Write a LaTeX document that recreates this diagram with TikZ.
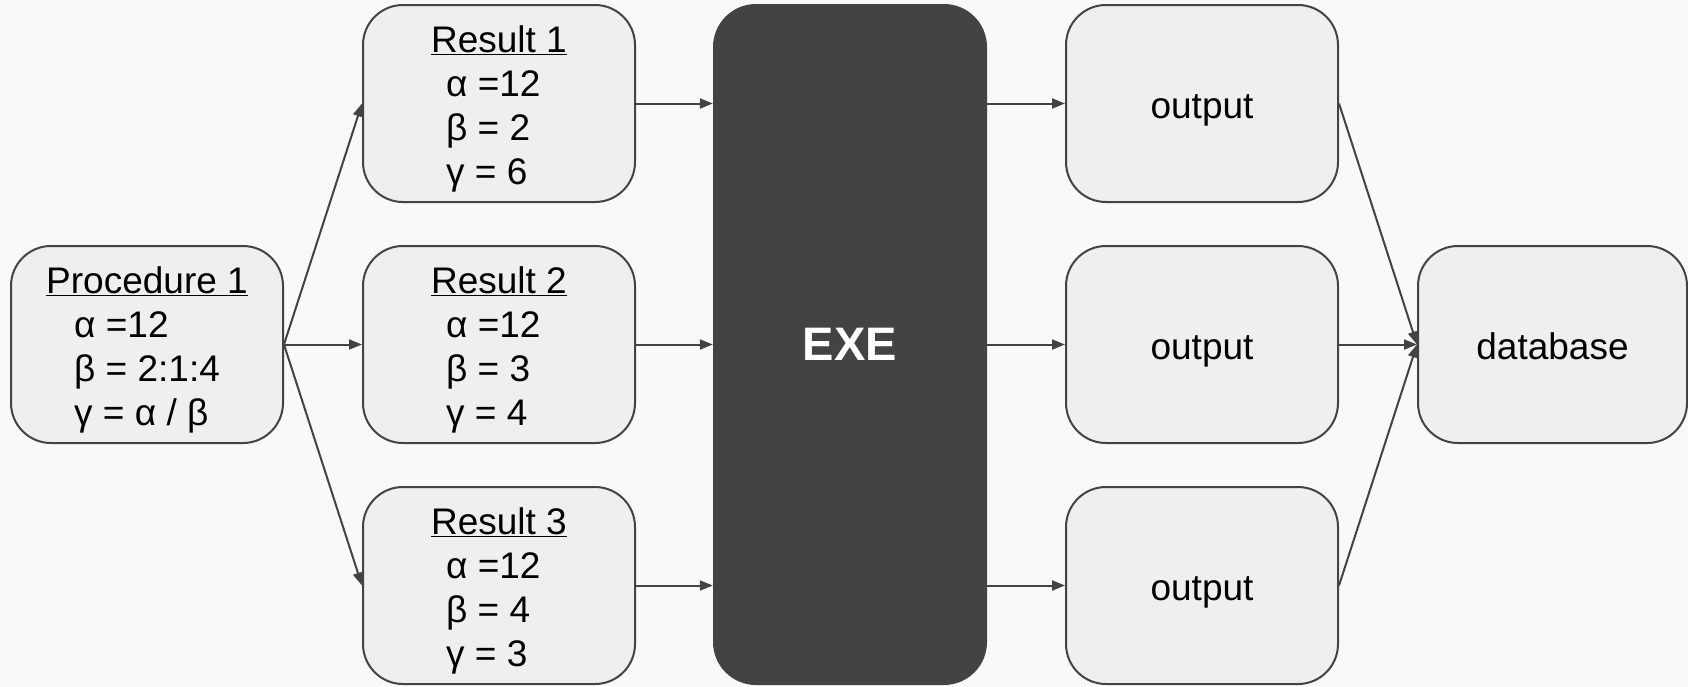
\documentclass[tikz,border=0pt]{standalone}
\usepackage{fontspec}
\setmainfont{Liberation Sans}
\usepackage{tikz}
\usetikzlibrary{arrows.meta,positioning}
\definecolor{bggray}{HTML}{F9F9F9}
\definecolor{boxgray}{HTML}{EFEFEF}
\definecolor{linegray}{HTML}{434343}
\definecolor{exegray}{HTML}{434343}
\newcommand{\boxtitle}[1]{\rule{0pt}{38pt}\underline{#1}}
\tikzset{
  box/.style={draw=linegray, fill=boxgray, line width=2pt, rounded corners=40pt,
    minimum width=272pt, minimum height=197pt, inner sep=0pt, align=left,
    font=\fontsize{37}{44}\selectfont},
  onebox/.style={box, text height=36pt, text depth=7pt},
  exebox/.style={fill=exegray, rounded corners=43pt, minimum width=274pt,
    minimum height=681pt, inner sep=0pt, text=white,
    font=\fontsize{47}{56}\selectfont\bfseries},
  link/.style={draw=linegray, line width=2pt, -{Triangle[length=13pt,width=10pt]}}
}

\begin{document}
\begin{tikzpicture}[x=1pt,y=-1pt]
	\fill[bggray] (0,0) rectangle (1688,686);
	\useasboundingbox (0,0) rectangle (1688,686);
	% input
	\node[box] (proc) at (147,344.5) {\boxtitle{Procedure 1}\\ \hspace*{28pt}α =12\\ \hspace*{28pt}β = 2:1:4\\ \hspace*{28pt}γ = α / β};
	% results
	\node[box] (res1) at (499,103.5) {\boxtitle{Result 1}\\ \hspace*{15pt}α =12\\ \hspace*{15pt}β = 2\\ \hspace*{15pt}γ = 6};
	\node[box] (res2) at (499,344.5) {\boxtitle{Result 2}\\ \hspace*{15pt}α =12\\ \hspace*{15pt}β = 3\\ \hspace*{15pt}γ = 4};
	\node[box] (res3) at (499,585.5) {\boxtitle{Result 3}\\ \hspace*{15pt}α =12\\ \hspace*{15pt}β = 4\\ \hspace*{15pt}γ = 3};
	\node[exebox] (exe) at (850,344.5) {EXE};
	% outputs
	\node[onebox] (out1) at (1202,103.5) {output};
	\node[onebox] (out2) at (1202,344.5) {output};
	\node[onebox] (out3) at (1202,585.5) {output};
	\node[onebox,minimum width=269pt] (db) at (1552.5,344.5) {database};
	% connectors
	\draw[link] (proc.east) -- (res1.west);
	\draw[link] (proc.east) -- (res2.west);
	\draw[link] (proc.east) -- (res3.west);
	\draw[link] (res1.east) -- (res1.east -| exe.west);
	\draw[link] (res2.east) -- (res2.east -| exe.west);
	\draw[link] (res3.east) -- (res3.east -| exe.west);
	\draw[link] (out1.west -| exe.east) -- (out1.west);
	\draw[link] (out2.west -| exe.east) -- (out2.west);
	\draw[link] (out3.west -| exe.east) -- (out3.west);
	\draw[link] (out1.east) -- (db.west);
	\draw[link] (out2.east) -- (db.west);
	\draw[link] (out3.east) -- (db.west);
\end{tikzpicture}
\end{document}
